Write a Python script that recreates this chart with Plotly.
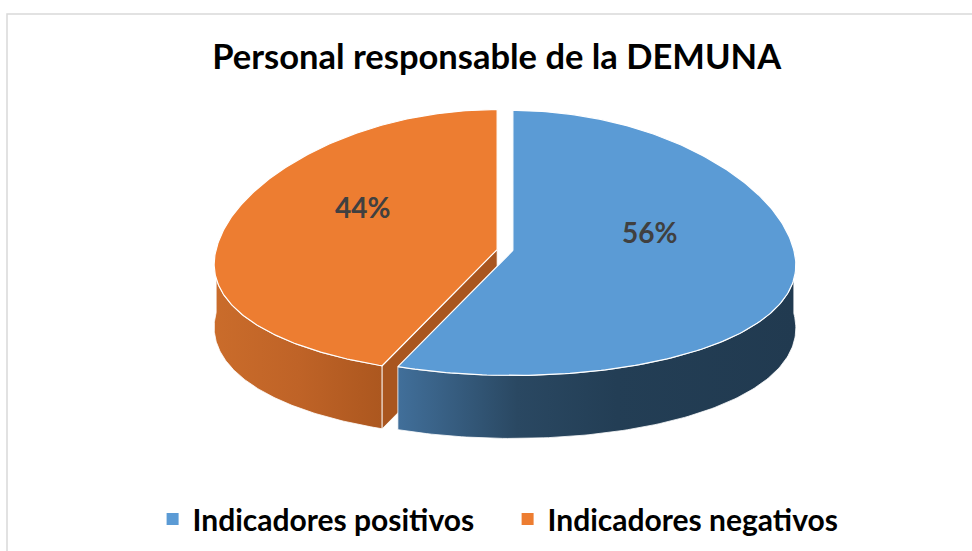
import numpy as np
import plotly.graph_objects as go

# ---- data ----
categories = ["Indicadores positivos", "Indicadores negativos"]
values = [56, 44]
labels_text = ["56%", "44%"]
title_text = "Personal responsable de la DEMUNA"

# ---- style / geometry ----
W, H = 972, 551
top_colors = ["#5B9BD5", "#ED7D31"]
side_scales = [
    [[0, "#416F9A"], [0.3, "#2A4862"], [0.55, "#233E55"], [1, "#213A50"]],
    [[0, "#CA6C2B"], [0.5, "#BF6327"], [1, "#AC571F"]],
]
face_colors = ["#2B4A66", "#A9561F"]
CX, CY = 505, 250
A = 281
B_BACK, B_FRONT = 140, 125
DEPTH = 63
EXPLODE = 8
PERSP = 0.12
FONT = "Lato"

def proj(theta_deg, cx, cy, r=1.0):
    t = np.radians(theta_deg)
    c = np.cos(t)
    b = np.where(c >= 0, B_BACK, B_FRONT)
    s = 1 - PERSP * c
    return cx + A * r * np.sin(t) * s, cy - b * r * c

fig = go.Figure()

total = sum(values)
starts, ends = [], []
acc = 0.0
for v in values:
    starts.append(acc / total * 360)
    acc += v
    ends.append(acc / total * 360)

centers = []
for i in range(len(values)):
    mid = np.radians((starts[i] + ends[i]) / 2)
    cx = CX + EXPLODE * np.sin(mid)
    cy = CY - EXPLODE * 0.3 * np.cos(mid)
    centers.append((cx, cy))

def add_poly(xs, ys, color=None, grad=None, line_color="white", lw=1.2):
    kw = dict(x=list(xs) + [xs[0]], y=list(ys) + [ys[0]], mode="lines", fill="toself",
              line=dict(color=line_color, width=lw), hoverinfo="skip", showlegend=False)
    if grad is not None:
        kw["fillgradient"] = grad
        kw["fillcolor"] = grad["colorscale"][0][1]
    else:
        kw["fillcolor"] = color
    fig.add_trace(go.Scatter(**kw))

order = [1, 0]  # draw back/left slice first
for i in order:
    cx, cy = centers[i]
    s, e = starts[i], ends[i]
    # visible side wall: front half (90..270)
    lo, hi = max(s, 90), min(e, 270)
    if hi > lo:
        th = np.linspace(lo, hi, 120)
        xt, yt = proj(th, cx, cy)
        xs = np.concatenate([xt, xt[::-1]])
        ys = np.concatenate([yt, (yt + DEPTH)[::-1]])
        grad = dict(type="horizontal", colorscale=side_scales[i],
                    start=float(xt.min()), stop=float(xt.max()))
        add_poly(xs, ys, grad=grad, lw=0.8)
    # radial cut face visible on slice whose start edge faces the viewer
    if i == 1:
        rx, ry = proj(np.array([s]), cx, cy)
        xs = [cx, rx[0], rx[0], cx]
        ys = [cy, ry[0], ry[0] + DEPTH, cy + DEPTH]
        add_poly(xs, ys, color=face_colors[i], lw=0.8)
    # top face
    th = np.linspace(s, e, 240)
    xt, yt = proj(th, cx, cy)
    xs = np.concatenate([[cx], xt])
    ys = np.concatenate([[cy], yt])
    add_poly(xs, ys, color=top_colors[i], lw=1.2)

# percentage labels
for i in range(len(values)):
    cx, cy = centers[i]
    mid = (starts[i] + ends[i]) / 2
    lx, ly = proj(np.array([mid]), cx, cy, r=0.49)
    fig.add_annotation(x=float(lx[0]) - 2, y=float(ly[0]) - 30, text=labels_text[i], showarrow=False,
                       font=dict(family=FONT, size=28, color="#404040", weight="bold"))

# legend entries
for i, name in enumerate(categories):
    fig.add_trace(go.Scatter(x=[None], y=[None], mode="markers", name=name,
                             marker=dict(symbol="square", size=11, color=top_colors[i])))

fig.add_shape(type="rect", x0=7, y0=14, x1=W + 20, y1=H + 20, xref="x", yref="y",
              line=dict(color="#D9D9D9", width=1.5), layer="below")

fig.update_layout(
    width=W, height=H, margin=dict(l=0, r=0, t=0, b=0),
    paper_bgcolor="white", plot_bgcolor="white",
    title=dict(text=title_text, x=0.511, xanchor="center", y=1 - 57 / H, yanchor="middle",
               font=dict(family=FONT, size=34.5, color="black", weight="bold")),
    xaxis=dict(range=[0, W], visible=False, fixedrange=True),
    yaxis=dict(range=[H, 0], visible=False, fixedrange=True),
    showlegend=True,
    legend=dict(orientation="h", x=0.157, xanchor="left", y=1 - 519 / H, yanchor="middle",
                font=dict(family=FONT, size=30, color="black", weight="bold"),
                entrywidth=310, entrywidthmode="pixels",
                itemsizing="constant", bgcolor="rgba(0,0,0,0)"),
)

fig.write_html("out.html")
